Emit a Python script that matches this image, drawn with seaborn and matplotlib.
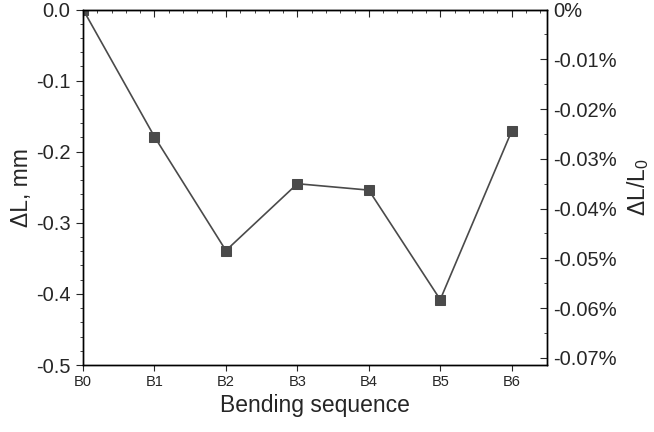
import matplotlib
matplotlib.use("Agg")
import matplotlib.pyplot as plt
from matplotlib.ticker import MultipleLocator, FuncFormatter
import seaborn as sns
import pandas as pd

# Datos
etapas = ['B0', 'B1', 'B2', 'B3', 'B4', 'B5', 'B6']
delta_l = [0.0, -0.179, -0.339, -0.245, -0.254, -0.408, -0.171]
l0_mm = 700.0

df = pd.DataFrame({'pos': range(len(etapas)), 'dL': delta_l})

sns.set_style("ticks")
plt.rcParams['font.family'] = ['Liberation Sans', 'DejaVu Sans']
plt.rcParams['axes.unicode_minus'] = False
plt.rcParams['mathtext.fontset'] = 'custom'
plt.rcParams['mathtext.rm'] = 'Liberation Sans'
plt.rcParams['mathtext.it'] = 'Liberation Sans'

fig = plt.figure(figsize=(6.54, 4.32), dpi=100)
ax = fig.add_axes([0.127, 0.155, 0.71, 0.823])

color = '#4a4a4a'
sns.lineplot(data=df, x='pos', y='dL', ax=ax, color=color, marker='s',
             markersize=7.5, markeredgecolor=color, linewidth=1.2)

ax.set_xlim(0, 6.5)
ax.set_ylim(-0.5, 0.0)
ax.set_xticks(range(len(etapas)))
ax.set_xticklabels(etapas, fontsize=10.5)
ax.yaxis.set_major_locator(MultipleLocator(0.1))
ax.yaxis.set_minor_locator(MultipleLocator(0.02))
ax.yaxis.set_major_formatter(FuncFormatter(lambda v, p: f"{v:.1f}"))
ax.tick_params(axis='y', which='major', direction='out', length=5, pad=4, labelsize=14.5)
ax.tick_params(axis='y', which='minor', direction='out', length=2.5)
ax.tick_params(axis='x', which='major', direction='out', length=4, pad=3)
ax.set_xlabel('Bending sequence', fontsize=16.5, labelpad=4)
ax.set_ylabel('ΔL, mm', fontsize=16.5, labelpad=2)

# eje superior con marcas hacia dentro
top = ax.secondary_xaxis('top')
top.set_xticks(range(len(etapas)))
top.xaxis.set_minor_locator(MultipleLocator(0.2))
top.tick_params(which='major', direction='in', length=5, labeltop=False)
top.tick_params(which='minor', direction='in', length=2.5)

# eje derecho en porcentaje
ax2 = ax.twinx()
ax2.set_ylim(-0.5 / l0_mm * 100, 0)
ax2.yaxis.set_major_locator(MultipleLocator(0.01))
ax2.yaxis.set_minor_locator(MultipleLocator(0.005))
ax2.yaxis.set_major_formatter(FuncFormatter(lambda v, p: "0%" if abs(v) < 1e-9 else f"{v:.2f}%"))
ax2.tick_params(which='major', direction='in', length=5, pad=4, labelsize=14.5)
ax2.tick_params(which='minor', direction='in', length=2.5)
ax2.set_ylabel('ΔL/L$_0$', fontsize=16.5, labelpad=6)

for a in (ax, ax2):
    for s in a.spines.values():
        s.set_linewidth(1.0)
        s.set_color('black')

fig.savefig('out.png', dpi=100)
